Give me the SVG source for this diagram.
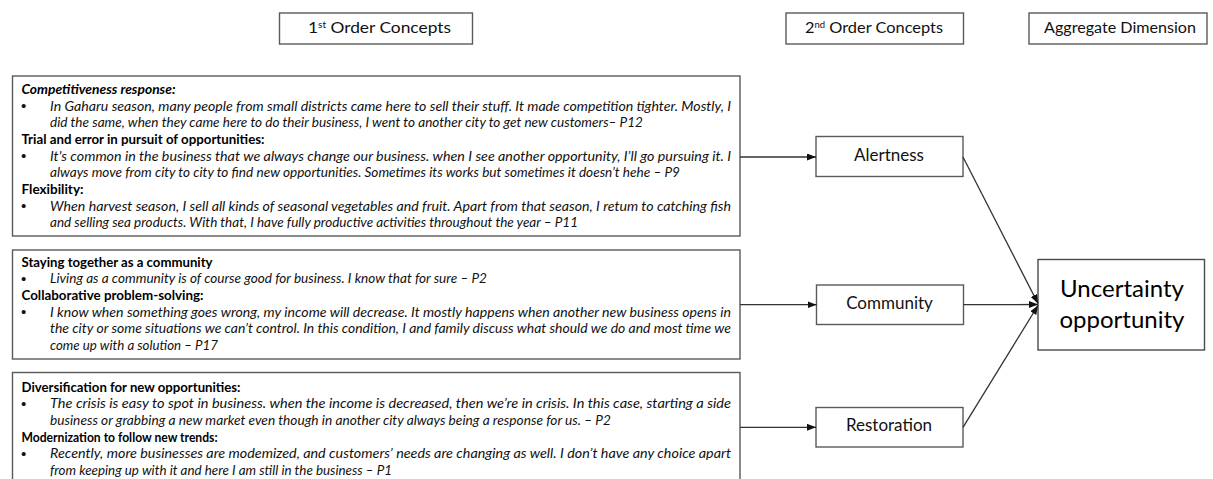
<svg xmlns="http://www.w3.org/2000/svg" width="1213" height="479" viewBox="0 0 1213 479">
<style>
.bg{fill:#ffffff}
.box{fill:#ffffff;stroke:#5a5a5a;stroke-width:1.4}
.hd{font-family:Lato,"Liberation Sans",sans-serif;font-size:15.5px;fill:#111}
.h{font-family:Lato,"Liberation Sans",sans-serif;font-size:13.8px;font-weight:bold;fill:#000}
.hi{font-family:Lato,"Liberation Sans",sans-serif;font-size:13.8px;font-weight:bold;font-style:italic;fill:#000}
.q{font-family:Lato,"Liberation Sans",sans-serif;font-size:13.8px;font-style:italic;fill:#111}
.b{font-family:"Liberation Sans",sans-serif;font-size:15px;fill:#111}
.c2{font-family:Lato,"Liberation Sans",sans-serif;font-size:17px;fill:#111;text-anchor:middle}
.c3{font-family:Lato,"Liberation Sans",sans-serif;font-size:24px;fill:#000;text-anchor:middle}
.ln{stroke:#333;stroke-width:1.3;fill:none}
</style>
<defs>
<marker id="ah" markerUnits="userSpaceOnUse" markerWidth="10" markerHeight="8" refX="9" refY="3.5" orient="auto">
<path d="M0,0 L9,3.5 L0,7 z" fill="#111"/>
</marker>
</defs>
<rect class="bg" x="0" y="0" width="1213" height="479"/>

<g id="header-1st">
<rect class="box" x="279.5" y="13" width="193" height="31"/>
<text class="hd" x="308" y="33" textLength="143" lengthAdjust="spacingAndGlyphs">1<tspan font-size="9" dy="-5">st</tspan><tspan dy="5"> Order Concepts</tspan></text>
</g>
<g id="header-2nd">
<rect class="box" x="786" y="13" width="177.5" height="31"/>
<text class="hd" x="805" y="33" textLength="138" lengthAdjust="spacingAndGlyphs">2<tspan font-size="9" dy="-5">nd</tspan><tspan dy="5"> Order Concepts</tspan></text>
</g>
<g id="header-aggregate">
<rect class="box" x="1029" y="13" width="178" height="31"/>
<text class="hd" x="1044" y="33" textLength="152" lengthAdjust="spacingAndGlyphs">Aggregate Dimension</text>
</g>

<g id="first-order-1">
<rect class="box" x="12.5" y="76" width="727.5" height="160"/>
<text class="hi" x="21.5" y="94" textLength="154" lengthAdjust="spacingAndGlyphs">Competitiveness response:</text>
<text class="b" x="21" y="111">•</text>
<text class="q" x="50" y="110.7" textLength="681" lengthAdjust="spacingAndGlyphs">In Gaharu season, many people from small districts came here to sell their stuff. It made competition tighter. Mostly, I</text>
<text class="q" x="50" y="127.3" textLength="593" lengthAdjust="spacingAndGlyphs">did the same, when they came here to do their business, I went to another city to get new customers– P12</text>
<text class="h" x="21.5" y="144" textLength="243" lengthAdjust="spacingAndGlyphs">Trial and error in pursuit of opportunities:</text>
<text class="b" x="21" y="161">•</text>
<text class="q" x="50" y="160.7" textLength="681" lengthAdjust="spacingAndGlyphs">It's common in the business that we always change our business. when I see another opportunity, I’ll go pursuing it. I</text>
<text class="q" x="50" y="177.3" textLength="630" lengthAdjust="spacingAndGlyphs">always move from city to city to find new opportunities. Sometimes its works but sometimes it doesn’t hehe – P9</text>
<text class="h" x="21.5" y="194" textLength="62" lengthAdjust="spacingAndGlyphs">Flexibility:</text>
<text class="b" x="21" y="211">•</text>
<text class="q" x="50" y="210.7" textLength="681" lengthAdjust="spacingAndGlyphs">When harvest season, I sell all kinds of seasonal vegetables and fruit. Apart from that season, I retum to catching fish</text>
<text class="q" x="50" y="227.3" textLength="528" lengthAdjust="spacingAndGlyphs">and selling sea products. With that, I have fully productive activities throughout the year – P11</text>
</g>

<g id="first-order-2">
<rect class="box" x="12.5" y="250" width="727.5" height="109"/>
<text class="h" x="21.5" y="266.7" textLength="191" lengthAdjust="spacingAndGlyphs">Staying together as a community</text>
<text class="b" x="21" y="283.6">•</text>
<text class="q" x="50" y="283.3" textLength="437" lengthAdjust="spacingAndGlyphs">Living as a community is of course good for business. I know that for sure – P2</text>
<text class="h" x="21.5" y="300" textLength="182" lengthAdjust="spacingAndGlyphs">Collaborative problem-solving:</text>
<text class="b" x="21" y="317">•</text>
<text class="q" x="50" y="316.7" textLength="681" lengthAdjust="spacingAndGlyphs">I know when something goes wrong, my income will decrease. It mostly happens when another new business opens in</text>
<text class="q" x="50" y="333.3" textLength="681" lengthAdjust="spacingAndGlyphs">the city or some situations we can’t control. In this condition, I and family discuss what should we do and most time we</text>
<text class="q" x="50" y="350" textLength="168" lengthAdjust="spacingAndGlyphs">come up with a solution – P17</text>
</g>

<g id="first-order-3">
<rect class="box" x="12.5" y="372.5" width="727.5" height="130"/>
<text class="h" x="21.5" y="391.7" textLength="219" lengthAdjust="spacingAndGlyphs">Diversification for new opportunities:</text>
<text class="b" x="21" y="408.6">•</text>
<text class="q" x="50" y="408.3" textLength="681" lengthAdjust="spacingAndGlyphs">The crisis is easy to spot in business. when the income is decreased, then we’re in crisis. In this case, starting a side</text>
<text class="q" x="50" y="425" textLength="561" lengthAdjust="spacingAndGlyphs">business or grabbing a new market even though in another city always being a response for us. – P2</text>
<text class="h" x="21.5" y="441.7" textLength="196" lengthAdjust="spacingAndGlyphs">Modernization to follow new trends:</text>
<text class="b" x="21" y="458.6">•</text>
<text class="q" x="50" y="458.3" textLength="681" lengthAdjust="spacingAndGlyphs">Recently, more businesses are modemized, and customers’ needs are changing as well. I don’t have any choice apart</text>
<text class="q" x="50" y="475" textLength="342" lengthAdjust="spacingAndGlyphs">from keeping up with it and here I am still in the business – P1</text>
</g>

<g id="alertness">
<rect class="box" x="816" y="136.5" width="147" height="40"/>
<text class="c2" x="889" y="160.5">Alertness</text>
</g>
<g id="community">
<rect class="box" x="816.5" y="285" width="147" height="39.5"/>
<text class="c2" x="889.5" y="308.5">Community</text>
</g>
<g id="restoration">
<rect class="box" x="816" y="407.5" width="147" height="39.5"/>
<text class="c2" x="889" y="431">Restoration</text>
</g>
<g id="uncertainty-opportunity">
<rect class="box" x="1038" y="259.5" width="166.5" height="90.5" style="stroke:#4a4a4a"/>
<text class="c3" x="1122" y="297.3">Uncertainty</text>
<text class="c3" x="1122" y="327.5">opportunity</text>
</g>

<g id="connectors">
<line class="ln" x1="740" y1="157" x2="816" y2="157" marker-end="url(#ah)"/>
<line class="ln" x1="740" y1="304.7" x2="816.5" y2="304.7" marker-end="url(#ah)"/>
<line class="ln" x1="740" y1="427.3" x2="816" y2="427.3" marker-end="url(#ah)"/>
<line class="ln" x1="963" y1="157" x2="1038" y2="303.5" marker-end="url(#ah)"/>
<line class="ln" x1="963.5" y1="304.7" x2="1038" y2="304.5" marker-end="url(#ah)"/>
<line class="ln" x1="963" y1="427.3" x2="1038" y2="305.5" marker-end="url(#ah)"/>
</g>
</svg>
